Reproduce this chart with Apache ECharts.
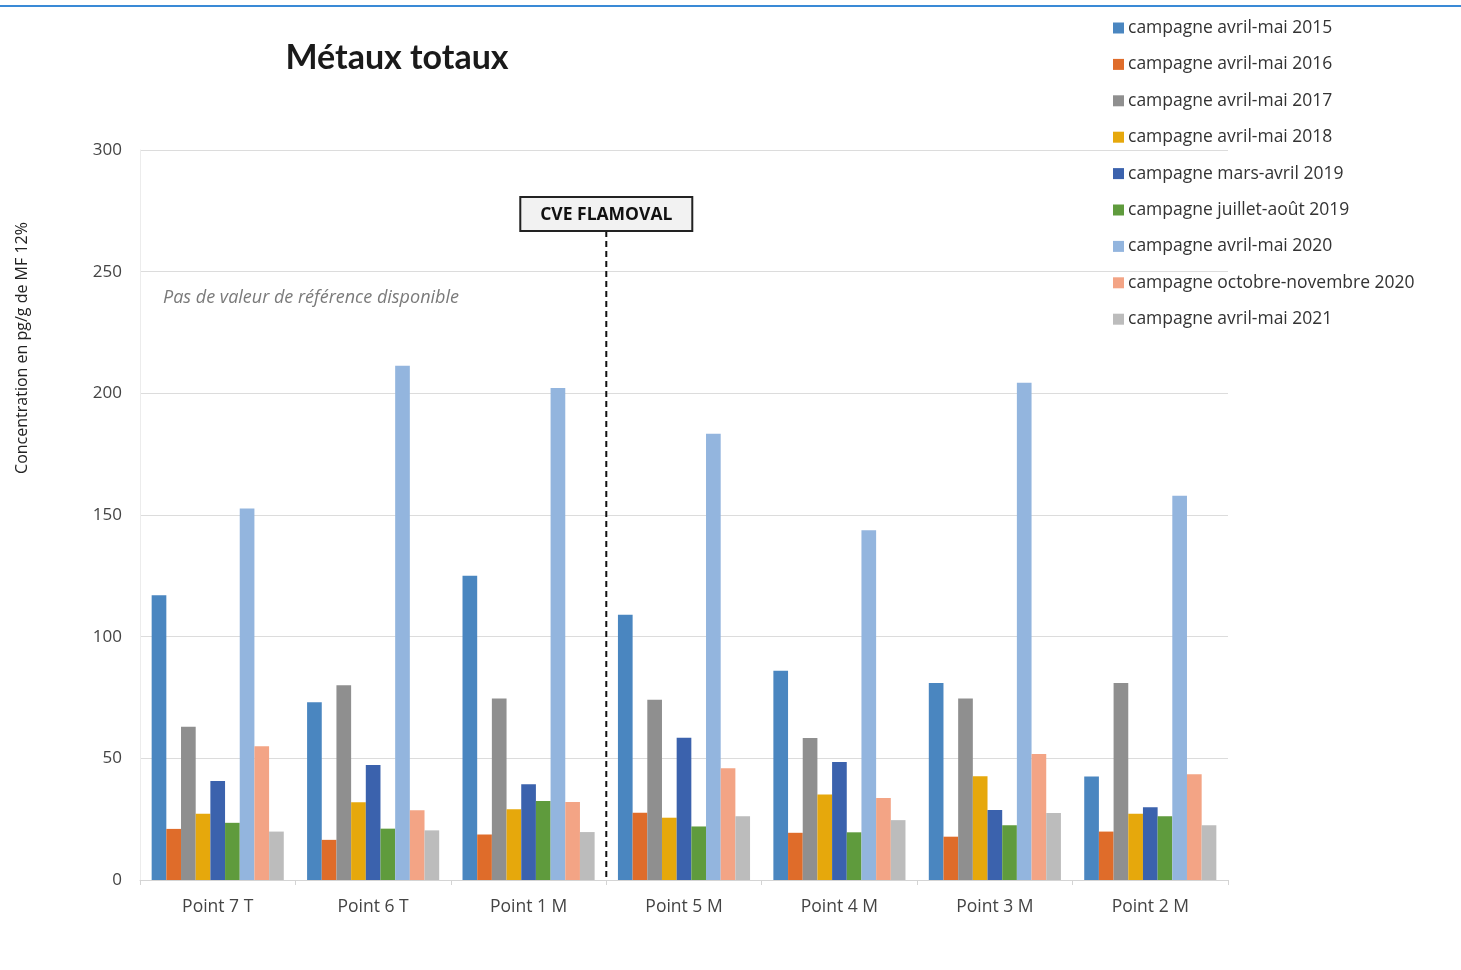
<!DOCTYPE html>
<html>
<head>
<meta charset="utf-8">
<script src="https://cdn.jsdelivr.net/npm/echarts@6/dist/echarts.min.js"></script>
<style>
html,body{margin:0;padding:0;background:#fff;}
#c{width:1461px;height:970px;}
</style>
</head>
<body>
<div id="c"></div>
<script>
const categories = ['Point 7 T','Point 6 T','Point 1 M','Point 5 M','Point 4 M','Point 3 M','Point 2 M'];
const seriesNames = ['campagne avril-mai 2015','campagne avril-mai 2016','campagne avril-mai 2017','campagne avril-mai 2018','campagne mars-avril 2019','campagne juillet-août 2019','campagne avril-mai 2020','campagne octobre-novembre 2020','campagne avril-mai 2021'];
const s2015 = [117, 73, 125, 109, 86, 81, 42.5];
const s2016 = [21, 16.5, 18.7, 27.6, 19.4, 17.8, 19.9];
const s2017 = [63, 80, 74.6, 74.1, 58.4, 74.6, 81];
const s2018 = [27.2, 32, 29.1, 25.6, 35.1, 42.6, 27.2];
const s2019a = [40.7, 47.3, 39.3, 58.5, 48.5, 28.8, 29.9];
const s2019b = [23.5, 21.1, 32.5, 22, 19.6, 22.5, 26.2];
const s2020 = [152.7, 211.3, 202.2, 183.4, 143.7, 204.3, 157.9];
const s2020b = [55, 28.7, 32.1, 45.9, 33.7, 51.8, 43.5];
const s2021 = [19.9, 20.4, 19.7, 26.2, 24.6, 27.5, 22.5];
const yTicks = [0, 50, 100, 150, 200, 250, 300];
const colors = ['#4a86c0','#df6c2a','#8f8f8f','#e6a80c','#3b62ad','#5f9b3d','#93b5de','#f3a485','#bcbcbc'];
const allData = [s2015, s2016, s2017, s2018, s2019a, s2019b, s2020, s2020b, s2021];

const chart = echarts.init(document.getElementById('c'));
const font = '"Open Sans", "Noto Sans", sans-serif';

const option = {
  animation: false,
  backgroundColor: '#fff',
  title: {
    text: 'Métaux totaux',
    left: 392, top: 36, textAlign: 'center',
    textStyle: {fontFamily: 'Lato, "Open Sans", sans-serif', fontSize: 34, fontWeight: 'bold', color: '#1a1a1a'}
  },
  legend: {
    orient: 'vertical',
    left: 1108, top: 14,
    itemWidth: 11, itemHeight: 11, itemGap: 18.4,
    icon: 'rect',
    textStyle: {fontFamily: font, fontSize: 17.5, color: '#333', padding: [0,0,0,-1]},
    data: seriesNames
  },
  grid: {left: 140, right: 233, top: 150, bottom: 90, containLabel: false},
  xAxis: {
    type: 'category',
    data: categories,
    axisLine: {lineStyle: {color: '#d4d4d4'}},
    axisTick: {show: true, length: 5, lineStyle: {color: '#d4d4d4'}},
    axisLabel: {fontFamily: font, fontSize: 17.5, color: '#444', margin: 18}
  },
  yAxis: {
    type: 'value',
    min: yTicks[0], max: yTicks[yTicks.length-1], interval: 50,
    axisLine: {show: true, lineStyle: {color: '#ececec'}},
    axisTick: {show: false},
    axisLabel: {fontFamily: font, fontSize: 17, color: '#444', margin: 18},
    splitLine: {lineStyle: {color: '#dcdcdc'}}
  },
  series: seriesNames.map((n, i) => ({
    name: n, type: 'bar', data: allData[i],
    itemStyle: {color: colors[i]},
    barGap: '0%', barCategoryGap: '15%'
  }))
};
chart.setOption(option);

const c2 = chart.convertToPixel({xAxisIndex: 0}, categories[2]);
const c3 = chart.convertToPixel({xAxisIndex: 0}, categories[3]);
const bx = (c2 + c3) / 2;
const y0 = chart.convertToPixel({yAxisIndex: 0}, 0);
chart.setOption({
  graphic: [
    {type: 'rect', shape: {x: 0, y: 5, width: 1461, height: 2}, style: {fill: '#3a8ad6'}},
    {type: 'text', x: 22, y: 348, rotation: Math.PI / 2, style: {text: 'Concentration en pg/g de MF 12%', font: '16px ' + font, fill: '#222', textAlign: 'center', textVerticalAlign: 'middle'}},
    {type: 'text', left: 163, top: 289, style: {text: 'Pas de valeur de référence disponible', font: 'italic 18px ' + font, fill: '#7a7a7a'}},
    {type: 'line', shape: {x1: bx, y1: 231, x2: bx, y2: y0}, style: {stroke: '#111', lineWidth: 2, lineDash: [6, 4]}},
    {type: 'rect', shape: {x: bx - 86, y: 197, width: 172, height: 34}, style: {fill: '#f2f2f2', stroke: '#222', lineWidth: 2}},
    {type: 'text', x: bx, y: 215, style: {text: 'CVE FLAMOVAL', font: 'bold 17.5px ' + font, fill: '#111', textAlign: 'center', textVerticalAlign: 'middle'}}
  ]
});
</script>
</body>
</html>
